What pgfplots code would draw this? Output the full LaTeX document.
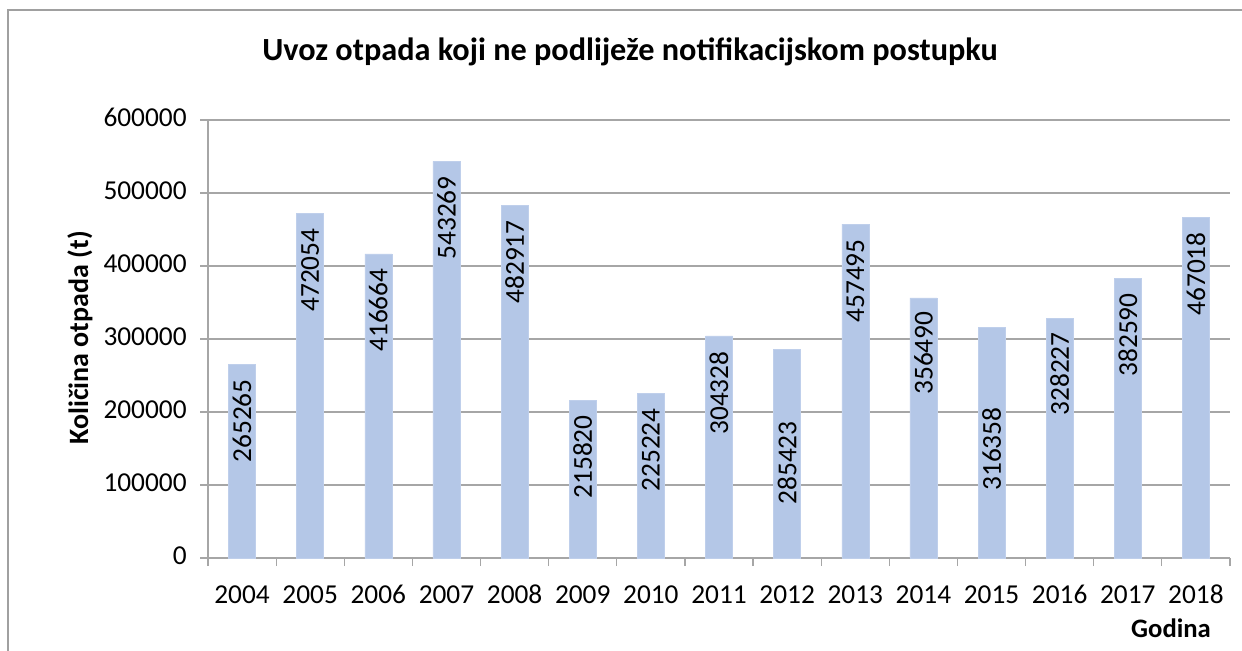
\documentclass[border=0pt]{standalone}
\usepackage{fontspec}
\setmainfont{Carlito}
\usepackage{pgfplots}
\pgfplotsset{compat=1.18}
\usepackage{pgfplotstable}
\definecolor{barblue}{RGB}{180,199,231}
\definecolor{gridgray}{RGB}{166,166,166}
\definecolor{bordergray}{RGB}{160,160,160}
\pgfplotstableread{
x year v ly
0 2004 265265 187700
1 2005 472054 394500
2 2006 416664 339700
3 2007 543269 465750
4 2008 482917 405500
5 2009 215820 138350
6 2010 225224 147950
7 2011 304328 226000
8 2012 285423 130150
9 2013 457495 379450
10 2014 356490 280800
11 2015 316358 149300
12 2016 328227 252050
13 2017 382590 305500
14 2018 467018 389050
}\data
\begin{document}
\begin{tikzpicture}
\path[use as bounding box] (-156pt,-69pt) rectangle (775.5pt,418.5pt);
\draw[bordergray, line width=1.1pt] (-150pt,-80pt) -- (-150pt,411pt) -- (790pt,411pt);
\begin{axis}[
  at={(0pt,0pt)}, anchor=south west,
  scale only axis,
  width=766.5pt, height=328.5pt,
  xmin=-0.5, xmax=14.5, ymin=0, ymax=600000,
  axis x line*=bottom, axis y line*=left,
  axis line style={-, gridgray, line width=0.9pt},
  xtick={0,...,14},
  xticklabels={2004,2005,2006,2007,2008,2009,2010,2011,2012,2013,2014,2015,2016,2017,2018},
  major x tick style={draw=none},
  minor xtick={-0.5,0.5,...,14.5},
  minor x tick style={gridgray, line width=0.9pt},
  minor tick length=6pt,
  major tick length=6pt,
  tick align=outside,
  ytick={0,100000,...,600000},
  y tick style={gridgray, line width=0.9pt},
  ymajorgrids,
  grid style={gridgray, line width=0.9pt},
  scaled y ticks=false,
  typeset ticklabels with strut,
  /pgf/number format/.cd, fixed, 1000 sep={}, assume math mode=true,
  /pgfplots/.cd,
  tick label style={font=\fontsize{20.5}{24}\selectfont, black},
  xticklabel style={yshift=-8pt},
  yticklabel style={xshift=-6.5pt},
  clip=false,
]
\addplot[ybar, bar width=20.25pt, fill=barblue, draw=barblue!85!white, line width=0.4pt] table[x=x, y=v] {\data};
\addplot[draw=none, mark=none, nodes near coords={\pgfplotspointmeta}, point meta=explicit symbolic,
  every node near coord/.append style={rotate=90, anchor=center, inner sep=0pt, font=\fontsize{20.5}{24}\selectfont, black}]
  table[x=x, y=ly, meta=v] {\data};
\end{axis}
\node[font=\bfseries\fontsize{24.2}{28}\selectfont] at (316.5pt,379.5pt) {Uvoz otpada koji ne podliježe notifikacijskom postupku};
\node[font=\bfseries\fontsize{20}{24}\selectfont] at (722.25pt,-52.5pt) {Godina};
\node[font=\bfseries\fontsize{21}{25}\selectfont, rotate=90] at (-96pt,165pt) {Količina otpada (t)};
\end{tikzpicture}
\end{document}
